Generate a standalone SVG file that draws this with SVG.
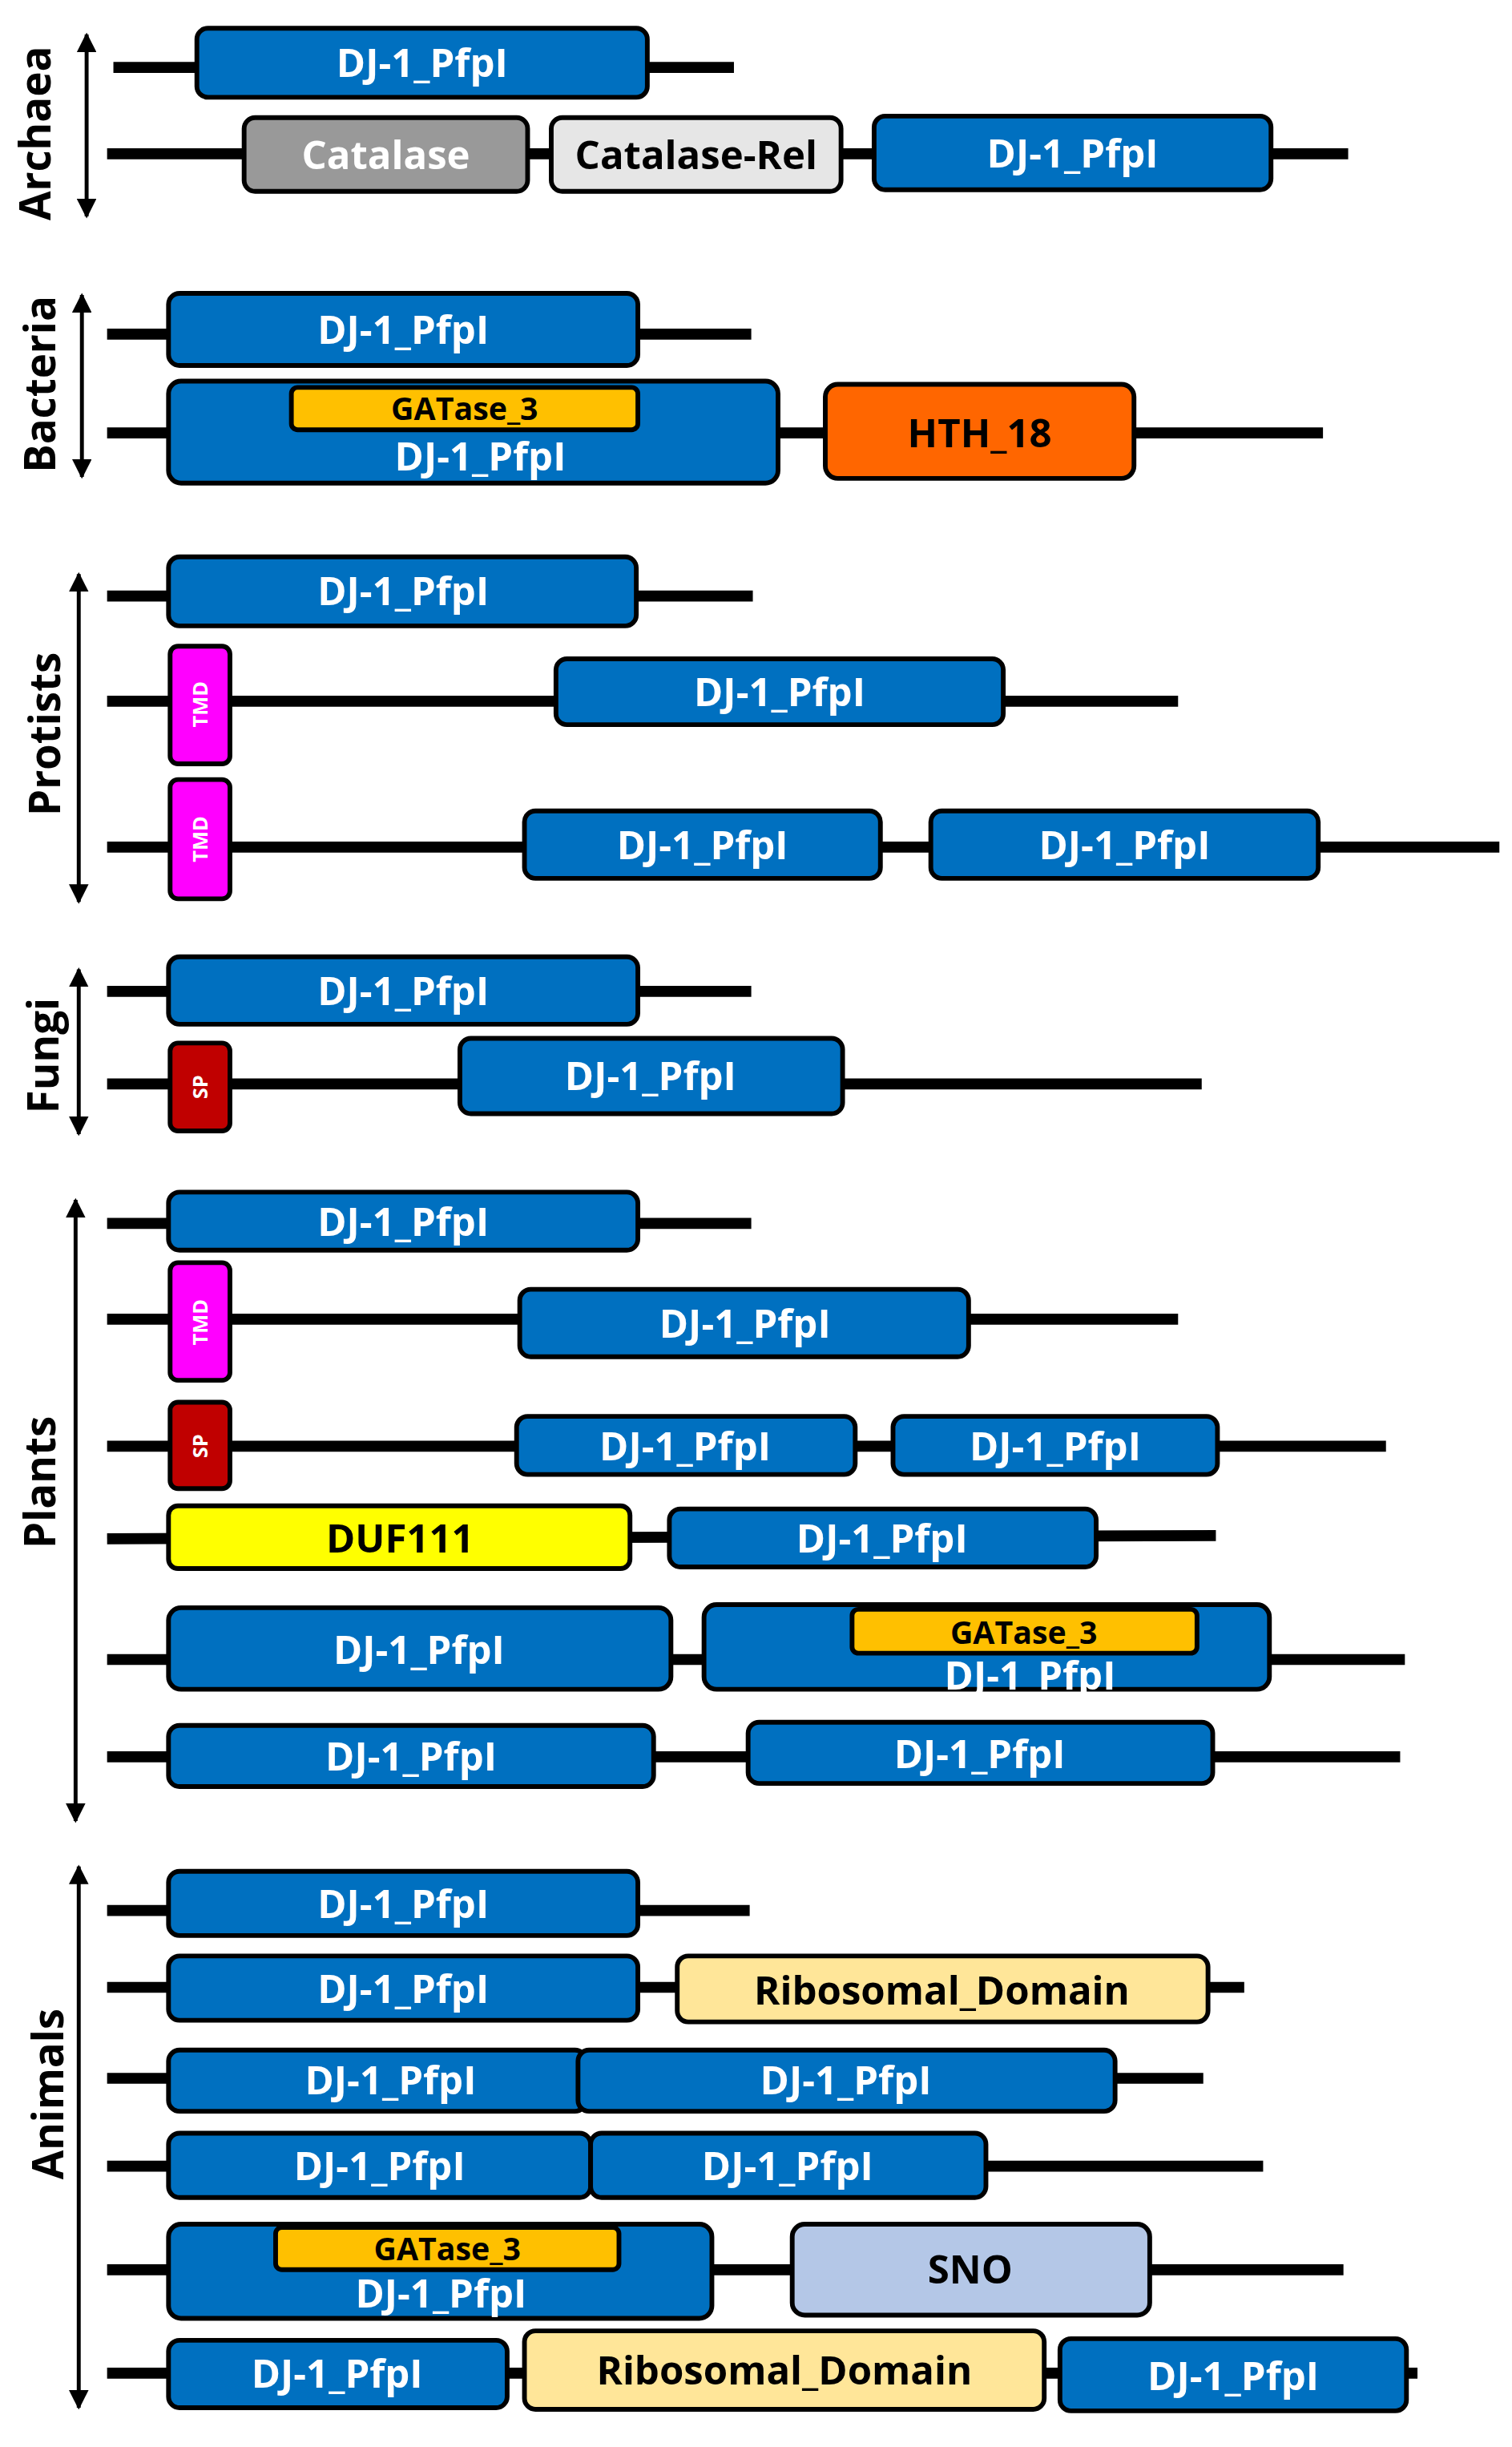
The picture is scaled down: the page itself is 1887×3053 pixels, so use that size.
<svg xmlns="http://www.w3.org/2000/svg" width="1887" height="3053" viewBox="0 0 1887 3053">
<style>
.bb{stroke:#000;stroke-width:3}
.blue{fill:#0070c0}
.ln{stroke:#000;stroke-width:7}
.ax{stroke:#000;stroke-width:2.5}
text{font-family:"Open Sans","Liberation Sans",sans-serif;font-weight:700;text-anchor:middle}
.w{fill:#fff;font-size:25px}
.k{fill:#000;font-size:25px}
.s{fill:#000;font-size:20px}
.t{fill:#fff;font-size:13px}
.lab{fill:#000;font-size:27px}
</style>
<defs>
<marker id="ah" viewBox="0 0 10 10" refX="9" refY="5" markerWidth="5" markerHeight="5" orient="auto-start-reverse"><path d="M0,0 L10,5 L0,10 z" fill="#000"/></marker>
</defs>
<rect width="1887" height="3053" fill="#fff"/>
<g transform="scale(1.9656 1.957)">
<g id="connectors">
<line class="ax" x1="55" y1="22" x2="55" y2="138" marker-start="url(#ah)" marker-end="url(#ah)"/>
<line class="ax" x1="52" y1="188" x2="52" y2="304" marker-start="url(#ah)" marker-end="url(#ah)"/>
<line class="ax" x1="50" y1="366" x2="50" y2="575" marker-start="url(#ah)" marker-end="url(#ah)"/>
<line class="ax" x1="50" y1="618" x2="50" y2="723" marker-start="url(#ah)" marker-end="url(#ah)"/>
<line class="ax" x1="48" y1="765" x2="48" y2="1161" marker-start="url(#ah)" marker-end="url(#ah)"/>
<line class="ax" x1="50" y1="1190" x2="50" y2="1535" marker-start="url(#ah)" marker-end="url(#ah)"/>
<line class="ln" x1="72" y1="43" x2="466" y2="43"/>
<line class="ln" x1="68" y1="98" x2="856" y2="98"/>
<line class="ln" x1="68" y1="213" x2="477" y2="213"/>
<line class="ln" x1="68" y1="276" x2="840" y2="276"/>
<line class="ln" x1="68" y1="380" x2="478" y2="380"/>
<line class="ln" x1="68" y1="447" x2="748" y2="447"/>
<line class="ln" x1="68" y1="540" x2="952" y2="540"/>
<line class="ln" x1="68" y1="632" x2="477" y2="632"/>
<line class="ln" x1="68" y1="691" x2="763" y2="691"/>
<line class="ln" x1="68" y1="780" x2="477" y2="780"/>
<line class="ln" x1="68" y1="841" x2="748" y2="841"/>
<line class="ln" x1="68" y1="922" x2="880" y2="922"/>
<line class="ln" x1="68" y1="981" x2="772" y2="979"/>
<line class="ln" x1="68" y1="1058" x2="892" y2="1058"/>
<line class="ln" x1="68" y1="1120" x2="889" y2="1120"/>
<line class="ln" x1="68" y1="1218" x2="476" y2="1218"/>
<line class="ln" x1="68" y1="1267" x2="790" y2="1267"/>
<line class="ln" x1="68" y1="1325" x2="764" y2="1325"/>
<line class="ln" x1="68" y1="1381" x2="802" y2="1381"/>
<line class="ln" x1="68" y1="1447" x2="853" y2="1447"/>
<line class="ln" x1="68" y1="1513" x2="900" y2="1513"/>
</g>
<g id="labels">
<text class="lab" transform="translate(32 85) rotate(-90)">Archaea</text>
<text class="lab" transform="translate(35 245) rotate(-90)">Bacteria</text>
<text class="lab" transform="translate(38 468) rotate(-90)">Protists</text>
<text class="lab" transform="translate(37 673) rotate(-90)">Fungi</text>
<text class="lab" transform="translate(35 945) rotate(-90)">Plants</text>
<text class="lab" transform="translate(40 1335) rotate(-90)">Animals</text>
</g>
<g id="archaea">
<rect class="bb blue" x="125" y="18" width="286" height="44" rx="7"/><text class="w" x="268" y="49">DJ-1_PfpI</text>
<rect class="bb" fill="#999" x="155" y="75" width="180" height="47" rx="7"/><text class="w" x="245" y="108">Catalase</text>
<rect class="bb" fill="#e6e6e6" x="350" y="75" width="184" height="47" rx="7"/><text class="k" x="442" y="108">Catalase-Rel</text>
<rect class="bb blue" x="555" y="74" width="252" height="47" rx="7"/><text class="w" x="681" y="107">DJ-1_PfpI</text>
</g>
<g id="bacteria">
<rect class="bb blue" x="107" y="187" width="298" height="46" rx="7"/><text class="w" x="256" y="219">DJ-1_PfpI</text>
<rect class="bb blue" x="107" y="243" width="387" height="65" rx="8"/>
<rect class="bb" fill="#ffc000" x="185" y="247" width="220" height="27" rx="4"/><text class="s" x="295" y="268">GATase_3</text>
<text class="w" x="305" y="300">DJ-1_PfpI</text>
<rect class="bb" fill="#ff6600" x="524" y="245" width="196" height="60" rx="8"/><text class="k" x="622" y="285">HTH_18</text>
</g>
<g id="protists">
<rect class="bb blue" x="107" y="355" width="297" height="44" rx="7"/><text class="w" x="256" y="386">DJ-1_PfpI</text>
<rect class="bb" fill="#ff00ff" x="108" y="412" width="38" height="75" rx="5"/><text class="t" transform="translate(132 449) rotate(-90)">TMD</text>
<rect class="bb blue" x="353" y="420" width="284" height="42" rx="7"/><text class="w" x="495" y="450">DJ-1_PfpI</text>
<rect class="bb" fill="#ff00ff" x="108" y="497" width="38" height="76" rx="5"/><text class="t" transform="translate(132 535) rotate(-90)">TMD</text>
<rect class="bb blue" x="333" y="517" width="226" height="43" rx="7"/><text class="w" x="446" y="548">DJ-1_PfpI</text>
<rect class="bb blue" x="591" y="517" width="246" height="43" rx="7"/><text class="w" x="714" y="548">DJ-1_PfpI</text>
</g>
<g id="fungi">
<rect class="bb blue" x="107" y="610" width="298" height="43" rx="7"/><text class="w" x="256" y="641">DJ-1_PfpI</text>
<rect class="bb" fill="#c00000" x="108" y="665" width="38" height="56" rx="5"/><text class="t" transform="translate(132 693) rotate(-90)">SP</text>
<rect class="bb blue" x="292" y="662" width="243" height="48" rx="7"/><text class="w" x="413" y="695">DJ-1_PfpI</text>
</g>
<g id="plants">
<rect class="bb blue" x="107" y="760" width="298" height="37" rx="7"/><text class="w" x="256" y="788">DJ-1_PfpI</text>
<rect class="bb" fill="#ff00ff" x="108" y="805" width="38" height="75" rx="5"/><text class="t" transform="translate(132 843) rotate(-90)">TMD</text>
<rect class="bb blue" x="330" y="822" width="285" height="43" rx="7"/><text class="w" x="473" y="853">DJ-1_PfpI</text>
<rect class="bb" fill="#c00000" x="108" y="894" width="38" height="55" rx="5"/><text class="t" transform="translate(132 922) rotate(-90)">SP</text>
<rect class="bb blue" x="328" y="903" width="215" height="37" rx="7"/><text class="w" x="435" y="931">DJ-1_PfpI</text>
<rect class="bb blue" x="567" y="903" width="206" height="37" rx="7"/><text class="w" x="670" y="931">DJ-1_PfpI</text>
<rect class="bb" fill="#ffff00" x="107" y="960" width="293" height="40" rx="6"/><text class="k" x="254" y="990">DUF111</text>
<rect class="bb blue" x="425" y="962" width="271" height="37" rx="7"/><text class="w" x="560" y="990">DJ-1_PfpI</text>
<rect class="bb blue" x="107" y="1025" width="319" height="52" rx="8"/><text class="w" x="266" y="1061">DJ-1_PfpI</text>
<rect class="bb blue" x="447" y="1023" width="359" height="54" rx="8"/>
<rect class="bb" fill="#ffc000" x="541" y="1026" width="219" height="28" rx="4"/><text class="s" x="650" y="1048">GATase_3</text>
<text class="w" x="654" y="1077">DJ-1_PfpI</text>
<rect class="bb blue" x="107" y="1100" width="308" height="39" rx="7"/><text class="w" x="261" y="1129">DJ-1_PfpI</text>
<rect class="bb blue" x="475" y="1098" width="295" height="39" rx="7"/><text class="w" x="622" y="1127">DJ-1_PfpI</text>
</g>
<g id="animals">
<rect class="bb blue" x="107" y="1193" width="298" height="41" rx="7"/><text class="w" x="256" y="1223">DJ-1_PfpI</text>
<rect class="bb blue" x="107" y="1247" width="298" height="41" rx="7"/><text class="w" x="256" y="1277">DJ-1_PfpI</text>
<rect class="bb" fill="#ffe699" x="430" y="1247" width="337" height="42" rx="7"/><text class="k" x="598" y="1278">Ribosomal_Domain</text>
<rect class="bb blue" x="107" y="1307" width="265" height="39" rx="7"/><text class="w" x="248" y="1335">DJ-1_PfpI</text>
<rect class="bb blue" x="367" y="1307" width="341" height="39" rx="7"/><text class="w" x="537" y="1335">DJ-1_PfpI</text>
<rect class="bb blue" x="107" y="1360" width="268" height="41" rx="7"/><text class="w" x="241" y="1390">DJ-1_PfpI</text>
<rect class="bb blue" x="375" y="1360" width="251" height="41" rx="7"/><text class="w" x="500" y="1390">DJ-1_PfpI</text>
<rect class="bb blue" x="107" y="1418" width="345" height="60" rx="8"/>
<rect class="bb" fill="#ffc000" x="175" y="1420" width="218" height="27" rx="4"/><text class="s" x="284" y="1441">GATase_3</text>
<text class="w" x="280" y="1471">DJ-1_PfpI</text>
<rect class="bb" fill="#b4c7e7" x="503" y="1418" width="227" height="58" rx="8"/><text class="k" x="616" y="1456">SNO</text>
<rect class="bb blue" x="107" y="1492" width="215" height="43" rx="7"/><text class="w" x="214" y="1522">DJ-1_PfpI</text>
<rect class="bb" fill="#ffe699" x="333" y="1486" width="330" height="50" rx="7"/><text class="k" x="498" y="1520">Ribosomal_Domain</text>
<rect class="bb blue" x="673" y="1491" width="220" height="46" rx="7"/><text class="w" x="783" y="1524">DJ-1_PfpI</text>
</g>
</g>
</svg>
